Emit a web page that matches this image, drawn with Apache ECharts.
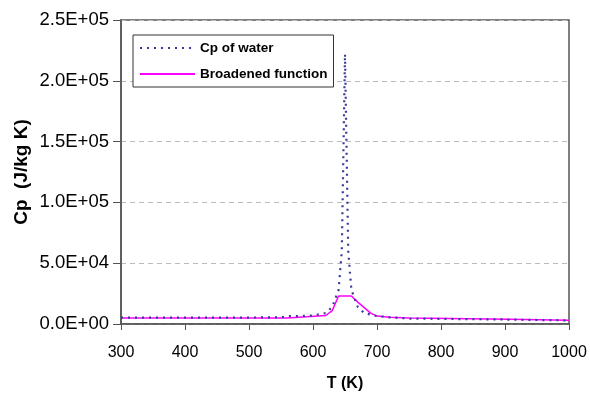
<!DOCTYPE html>
<html><head><meta charset="utf-8">
<script src="https://cdn.jsdelivr.net/npm/echarts@6/dist/echarts.min.js"></script>
<style>html,body{margin:0;padding:0;background:#fff}#c{width:590px;height:393px}</style>
</head><body><div id="c"></div>
<script>
const xTicks = [300, 400, 500, 600, 700, 800, 900, 1000];
const yTicks = [0, 50000, 100000, 150000, 200000, 250000];
const waterT  = [300, 350, 400, 450, 500, 550, 560, 580, 600, 620, 630, 640, 645, 650, 655, 660, 670, 680, 700, 720, 750, 800, 850, 900, 950, 1000];
const waterCp = [5200, 5200, 5200, 5200, 5300, 5500, 6500, 6500, 7000, 9000, 14000, 28000, 60000, 222000, 60000, 28000, 14000, 9000, 6500, 5500, 4500, 4200, 4000, 3700, 3300, 3000];
const broadT  = [300, 560, 562, 620, 630, 640, 660, 670, 690, 700, 720, 750, 752, 905, 907, 1000];
const broadCp = [5000, 5000, 6000, 7000, 11000, 23000, 23000, 18000, 9000, 6500, 5500, 5000, 4000, 4000, 3000, 3000];

function fmtE(v){
  if (v === 0) return '0.0E+00';
  let e = Math.floor(Math.log10(Math.abs(v)));
  let m = v / Math.pow(10, e);
  return m.toFixed(1) + 'E' + (e >= 0 ? '+' : '-') + String(Math.abs(e)).padStart(2, '0');
}
const chart = echarts.init(document.getElementById('c'));
const font = 'Liberation Sans, Arial, sans-serif';
chart.setOption({
  animation: false,
  grid: {left: 121, right: 21, top: 20, bottom: 69, show: true, outerBoundsMode: 'none', containLabel: false,
    borderColor: '#555', borderWidth: 1.5, backgroundColor: '#fff'},
  legend: {
    orient: 'vertical', left: 133, top: 35,
    backgroundColor: '#fff', borderColor: '#333', borderWidth: 1,
    padding: [6, 6, 6, 6], itemGap: 12, itemWidth: 55, itemHeight: 14,
    itemStyle: {opacity: 0},
    textStyle: {fontFamily: font, fontWeight: 'bold', fontSize: 13.5, color: '#000'},
    data: ['Cp of water', 'Broadened function']
  },
  xAxis: {
    type: 'value', min: 300, max: 1000, interval: 100,
    name: 'T (K)', nameLocation: 'middle', nameGap: 52, nameMoveOverlap: false,
    nameTextStyle: {fontFamily: font, fontWeight: 'bold', fontSize: 16, color: '#000'},
    axisLine: {show: true, lineStyle: {color: '#555', width: 1.5}},
    axisTick: {show: true, length: 6, lineStyle: {color: '#555'}},
    axisLabel: {fontFamily: font, fontSize: 16, color: '#000', margin: 21,
      formatter: v => xTicks.includes(v) ? String(v) : ''},
    splitLine: {show: false}
  },
  yAxis: {
    type: 'value', min: 0, max: 250000, interval: 50000,
    name: 'Cp  (J/kg K)', nameLocation: 'middle', nameGap: 90, nameMoveOverlap: false,
    nameTextStyle: {fontFamily: font, fontWeight: 'bold', fontSize: 19, color: '#000'},
    axisLine: {show: true, lineStyle: {color: '#555', width: 1.5}},
    axisTick: {show: true, length: 8, lineStyle: {color: '#555'}},
    axisLabel: {fontFamily: font, fontSize: 18.5, color: '#000', margin: 12,
      formatter: v => yTicks.includes(v) ? fmtE(v) : ''},
    splitLine: {show: true, lineStyle: {color: '#bbb', type: [5, 4], width: 1}}
  },
  series: [
    {
      name: 'Cp of water', type: 'line', symbol: 'none',
      data: waterT.map((t, i) => [t, waterCp[i]]),
      lineStyle: {color: '#3a3a9a', width: 2.2, type: [2, 5]},
      itemStyle: {color: '#3a3a9a'}, z: 3
    },
    {
      name: 'Broadened function', type: 'line', symbol: 'none',
      data: broadT.map((t, i) => [t, broadCp[i]]),
      lineStyle: {color: '#ff00ff', width: 1.5},
      itemStyle: {color: '#ff00ff'}, z: 2
    }
  ]
});
</script></body></html>
